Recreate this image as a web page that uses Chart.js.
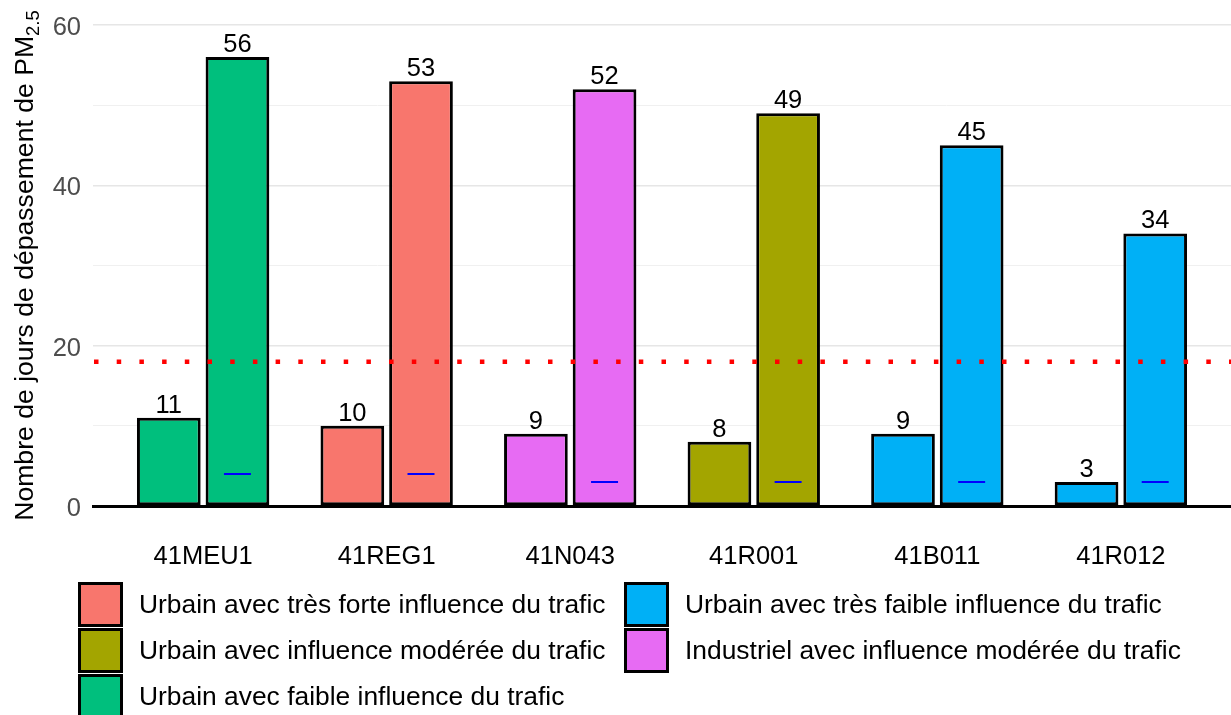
<!DOCTYPE html>
<html><head><meta charset="utf-8">
<script src="https://cdn.jsdelivr.net/npm/chart.js@4/dist/chart.umd.min.js"></script>
<style>
html,body{margin:0;padding:0;background:#fff;}
#wrap{position:relative;width:1231px;height:715px;overflow:hidden;}
#c{position:absolute;left:0;top:0;}
.leg{position:absolute;display:flex;align-items:center;font-family:"Liberation Sans",Arial,sans-serif;font-size:26.4px;color:#000;white-space:nowrap;height:45px;}
.leg .box{width:39px;height:39px;border:3px solid #000;margin-right:16px;flex:none;}
</style></head>
<body><div id="wrap"><canvas id="c" width="1231" height="715"></canvas><div id="legend"></div></div>
<script>
const stations = ['41MEU1','41REG1','41N043','41R001','41B011','41R012'];
const lowValues = [11,10,9,8,9,3];
const highValues = [56,53,52,49,45,34];
const markerValues = [4,4,3,3,3,3];
const stationCategory = [2,0,4,1,3,3];
const categories = ['Urbain avec très forte influence du trafic','Urbain avec influence modérée du trafic','Urbain avec faible influence du trafic','Urbain avec très faible influence du trafic','Industriel avec influence modérée du trafic'];
const categoryColors = ['#F8766D','#A3A500','#00BF7D','#00B0F6','#E76BF3'];
const thresholdValue = 18;
const yTickStep = 10;
const yLabelStep = 20;
const yTitle = 'Nombre de jours de dépassement de PM';
const yTitleSub = '2.5';

const FONT = '"Liberation Sans", Arial, sans-serif';
const barColors = stationCategory.map(c => categoryColors[c]);
const positions = stations.map((s, i) => i + 1);
const lowPoints = lowValues.map((v, i) => ({ x: positions[i], y: v }));
const highPoints = highValues.map((v, i) => ({ x: positions[i], y: v }));

const valueLabels = {
  id: 'valueLabels',
  afterDatasetsDraw(chart) {
    const ctx = chart.ctx;
    ctx.save();
    ctx.font = '25.5px ' + FONT;
    ctx.fillStyle = '#000';
    ctx.textAlign = 'center';
    ctx.textBaseline = 'alphabetic';
    chart.data.datasets.forEach((ds, di) => {
      chart.getDatasetMeta(di).data.forEach((el, i) => {
        ctx.fillText(String(ds.data[i].y), el.x, el.y - 5);
      });
    });
    ctx.restore();
  }
};

const markers = {
  id: 'markers',
  afterDatasetsDraw(chart) {
    const ctx = chart.ctx;
    const y = chart.scales.y;
    ctx.save();
    ctx.strokeStyle = '#0000FF';
    ctx.lineWidth = 2;
    chart.getDatasetMeta(1).data.forEach((el, i) => {
      const py = Math.round(y.getPixelForValue(markerValues[i]));
      ctx.beginPath();
      ctx.moveTo(el.x - 13.5, py);
      ctx.lineTo(el.x + 13.5, py);
      ctx.stroke();
    });
    ctx.restore();
  }
};

const threshold = {
  id: 'threshold',
  afterDatasetsDraw(chart) {
    const ctx = chart.ctx;
    const a = chart.chartArea;
    const py = chart.scales.y.getPixelForValue(thresholdValue);
    ctx.save();
    ctx.strokeStyle = '#FF0000';
    ctx.lineWidth = 4.5;
    ctx.lineCap = 'butt';
    ctx.setLineDash([4.5, 18.2]);
    ctx.beginPath();
    ctx.moveTo(a.left + 1, py);
    ctx.lineTo(a.right, py);
    ctx.stroke();
    ctx.restore();
  }
};

const yTitlePlugin = {
  id: 'yTitle',
  afterDraw(chart) {
    const ctx = chart.ctx;
    const a = chart.chartArea;
    ctx.save();
    const mainFont = '26.6px ' + FONT;
    const subFont = '18.5px ' + FONT;
    ctx.font = mainFont;
    const w1 = ctx.measureText(yTitle).width;
    ctx.font = subFont;
    const w2 = ctx.measureText(yTitleSub).width;
    const total = w1 + w2;
    const cy = (a.top + a.bottom) / 2 + 8;
    ctx.translate(33, cy);
    ctx.rotate(-Math.PI / 2);
    ctx.fillStyle = '#000';
    ctx.textBaseline = 'alphabetic';
    ctx.textAlign = 'left';
    ctx.font = mainFont;
    ctx.fillText(yTitle, -total / 2, 0);
    ctx.font = subFont;
    ctx.fillText(yTitleSub, -total / 2 + w1, 6);
    ctx.restore();
  }
};

new Chart(document.getElementById('c'), {
  type: 'bar',
  data: {
    datasets: [
      { label: 'low', data: lowPoints, backgroundColor: barColors, borderColor: '#000', borderWidth: 3, borderSkipped: false, barPercentage: 0.928, categoryPercentage: 0.748 },
      { label: 'high', data: highPoints, backgroundColor: barColors, borderColor: '#000', borderWidth: 3, borderSkipped: false, barPercentage: 0.928, categoryPercentage: 0.748 }
    ]
  },
  options: {
    responsive: false,
    animation: false,
    devicePixelRatio: 1,
    layout: { padding: { top: 9, left: 0, right: 0, bottom: 0 } },
    plugins: { legend: { display: false }, tooltip: { enabled: false } },
    scales: {
      x: {
        type: 'linear',
        min: 0.4, max: 6.6,
        offset: false,
        grid: { display: false },
        border: { display: true, color: '#000', width: 3 },
        ticks: {
          stepSize: 1,
          includeBounds: false,
          autoSkip: false,
          maxRotation: 0,
          color: '#000',
          font: { size: 25.5, family: FONT },
          padding: 28,
          callback: v => stations[v - 1] || ''
        },
        afterFit(s) { s.height = 209; s.paddingLeft = 0; s.paddingRight = 0; }
      },
      y: {
        min: 0, max: 62,
        grid: {
          drawTicks: false,
          color: c => (c.tick.value % yLabelStep === 0 ? '#E6E6E6' : '#F0F0F0'),
          lineWidth: c => (c.tick.value % yLabelStep === 0 ? 1.5 : 1)
        },
        border: { display: false },
        ticks: {
          stepSize: yTickStep,
          includeBounds: false,
          color: '#4D4D4D',
          font: { size: 25.5, family: FONT },
          padding: 12,
          labelOffset: 3,
          callback: v => (v % yLabelStep === 0 ? String(v) : '')
        },
        afterFit(s) { s.width = 93; s.paddingTop = 0; s.paddingBottom = 0; }
      }
    }
  },
  plugins: [threshold, markers, valueLabels, yTitlePlugin]
});

const legend = document.getElementById('legend');
const colLeft = [78, 624];
const rowTop = [582, 628, 674];
categories.forEach((name, i) => {
  const col = Math.floor(i / 3), row = i % 3;
  const item = document.createElement('div');
  item.className = 'leg';
  item.style.left = colLeft[col] + 'px';
  item.style.top = rowTop[row] + 'px';
  const box = document.createElement('div');
  box.className = 'box';
  box.style.background = categoryColors[i];
  const txt = document.createElement('span');
  txt.textContent = name;
  item.appendChild(box);
  item.appendChild(txt);
  legend.appendChild(item);
});
</script>
</body></html>
